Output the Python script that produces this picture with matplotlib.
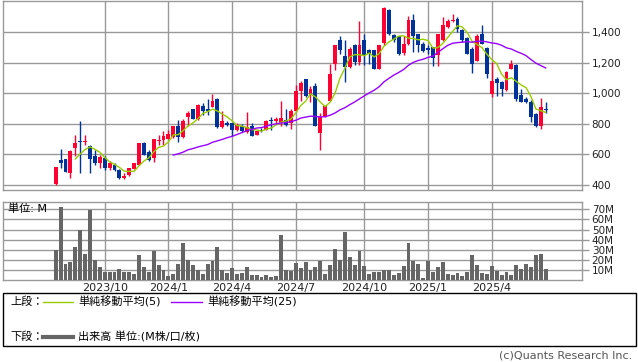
import matplotlib
matplotlib.use("Agg")
import matplotlib.pyplot as plt
import matplotlib.dates as mdates
from matplotlib.lines import Line2D
from matplotlib.patches import Rectangle
import numpy as np
import pandas as pd

plt.rcParams['font.family'] = ['DejaVu Sans', 'Noto Sans CJK JP']

# weekly candles, first week starting 2023-07-24
weeks = pd.date_range('2023-07-24', periods=101, freq='W-MON')

opens = [405, 562, 567, 476, 643, 690, 684, 653, 588, 541,
         578, 512, 534, 495, 443, 465, 502, 534, 675, 614,
         577, 686, 692, 701, 712, 783, 714, 848, 898, 833,
         918, 898, 909, 963, 777, 809, 809, 762, 787, 744,
         788, 729, 762, 757, 827, 816, 805, 827, 809, 885,
         1017, 1093, 989, 1048, 740, 848, 952, 1195, 1351, 1243,
         1173, 1314, 1206, 1347, 1282, 1282, 1158, 1329, 1548, 1384,
         1375, 1266, 1325, 1483, 1390, 1325, 1300, 1303, 1249, 1351,
         1433, 1472, 1487, 1412, 1362, 1290, 1212, 1386, 1297, 996,
         1097, 1076, 1022, 1162, 1184, 989, 965, 946, 866, 788,
         900]
highs = [517, 638, 571, 627, 729, 820, 729, 660, 632, 597,
         588, 558, 545, 502, 476, 508, 545, 675, 679, 627,
         703, 729, 751, 762, 788, 827, 835, 885, 900, 928,
         939, 961, 993, 972, 883, 816, 809, 805, 800, 881,
         805, 755, 772, 827, 844, 844, 949, 898, 900, 1054,
         1082, 1097, 1050, 1069, 870, 924, 1195, 1314, 1379, 1347,
         1303, 1325, 1472, 1390, 1292, 1286, 1314, 1568, 1552, 1390,
         1379, 1379, 1505, 1522, 1390, 1336, 1320, 1303, 1390, 1500,
         1487, 1522, 1498, 1422, 1370, 1303, 1390, 1450, 1303, 1206,
         1108, 1080, 1147, 1217, 1195, 1026, 978, 957, 870, 972,
         944]
lows = [400, 510, 482, 443, 588, 476, 664, 476, 530, 508,
        497, 497, 489, 437, 437, 458, 502, 530, 593, 556,
        549, 664, 660, 698, 707, 679, 707, 783, 830, 827,
        859, 859, 909, 772, 772, 783, 723, 751, 750, 740,
        718, 729, 744, 757, 762, 805, 788, 788, 766, 881,
        950, 978, 946, 783, 632, 844, 952, 1152, 1260, 1076,
        1163, 1184, 1184, 1184, 1195, 1158, 1158, 1314, 1384, 1336,
        1253, 1249, 1314, 1271, 1271, 1271, 1260, 1180, 1180, 1340,
        1427, 1466, 1400, 1336, 1255, 1136, 1210, 1325, 1102, 974,
        985, 985, 1017, 1162, 952, 943, 935, 811, 777, 768,
        870]
closes = [517, 545, 487, 625, 675, 684, 690, 573, 545, 580,
          512, 545, 495, 443, 456, 508, 545, 675, 599, 562,
          703, 692, 718, 736, 788, 714, 820, 874, 833, 924,
          887, 887, 950, 777, 820, 794, 762, 794, 755, 777,
          723, 755, 751, 820, 816, 831, 837, 790, 885, 1017,
          1069, 983, 1028, 788, 848, 918, 1130, 1314, 1282, 1173,
          1292, 1206, 1314, 1249, 1260, 1162, 1314, 1559, 1390, 1351,
          1260, 1325, 1483, 1373, 1314, 1277, 1285, 1234, 1390, 1448,
          1472, 1483, 1422, 1347, 1260, 1195, 1373, 1325, 1130, 1082,
          1065, 1030, 1139, 1195, 965, 946, 941, 848, 788, 909,
          892]
# volume in millions of shares
volume = [30, 72.7, 16.4, 18.4, 32.9, 49.6, 26, 69.7, 20, 13.1,
          8.5, 8.5, 8.5, 11.2, 8.5, 8.5, 6.2, 25, 13.1, 8.5,
          29.3, 15.1, 10.2, 4.3, 6.2, 16.1, 36.8, 20, 15.1, 10.2,
          6.2, 16.1, 19, 32.9, 10.2, 7.6, 12.2, 6.2, 7.6, 13.1,
          5.3, 5.3, 3.3, 5.3, 3.3, 4.3, 44.7, 10.2, 9.5, 17.4,
          12.2, 18, 10.2, 13.1, 19, 6.2, 15.1, 30.9, 20, 47.7,
          23, 15.1, 28.9, 14.1, 6.2, 8.2, 8.2, 10.2, 10.2, 5.3,
          7.2, 14.1, 36.8, 19, 16.1, 2.3, 19.4, 8.5, 13.1, 18,
          6.2, 5.3, 7.2, 4.3, 8.2, 25, 15.1, 7.2, 6.2, 14.1,
          9.2, 5.3, 8.2, 5.3, 15.1, 11.2, 16.1, 13.1, 25, 26,
          11.2]

month_labels = ['2023/10', '2024/1', '2024/4', '2024/7', '2024/10', '2025/1', '2025/4']
price_ticks = [400, 600, 800, 1000, 1200, 1400]
vol_ticks = [10, 20, 30, 40, 50, 60, 70]

RED = '#ff0033'
BLUE = '#003399'
GRID = '#999999'

W, H = 638, 362
fig = plt.figure(figsize=(W / 100, H / 100), dpi=100)

def box(x0, y0, x1, y1):
    # pixel box -> figure fraction
    return [x0 / W, 1 - y1 / H, (x1 - x0) / W, (y1 - y0) / H]

ax = fig.add_axes(box(3, 0.7, 582, 190.3))
axv = fig.add_axes(box(3, 201.7, 582, 280.3))

x = mdates.date2num(weeks)
o = np.array(opens, float)
c = np.array(closes, float)
cols = np.where(c >= o, RED, BLUE)

# month gridlines sit on the first weekly candle of each labelled month
tick_x = []
for lab in month_labels:
    yy, mm = map(int, lab.split('/'))
    idx = np.where((weeks.year == yy) & (weeks.month == mm))[0][0]
    tick_x.append(x[idx])

xlim = (x[0] - 75.3, x[-1] + 51.9)

# price panel
ax.vlines(x, lows, highs, colors=cols, lw=1, zorder=3)
ax.bar(x, np.maximum(np.abs(c - o), 4), bottom=np.minimum(o, c), width=5.6,
       color=cols, lw=0, zorder=3)
ma5 = pd.Series(c).rolling(5).mean()
ma25 = pd.Series(c).rolling(25).mean()
ax.plot(x, ma5, color='#99cc00', lw=1, zorder=4)
ax.plot(x, ma25, color='#9900ff', lw=1, zorder=4)
ax.set_xlim(*xlim)
ax.set_ylim(365, 1607)
ax.set_xticks(tick_x)
ax.set_xticklabels([])
ax.tick_params(axis='x', length=0)
ax.set_yticks(price_ticks)
ax.set_yticklabels([f'{v:,}' for v in price_ticks])

# volume panel
axv.bar(x, volume, width=5.6, color='#666666', lw=0, zorder=3)
axv.set_xlim(*xlim)
axv.set_ylim(0, 77.5)
axv.set_xticks(tick_x)
axv.set_xticklabels(month_labels, fontsize=8, color='#222222')
axv.tick_params(axis='x', length=0, pad=2)
axv.set_yticks(vol_ticks)
axv.set_yticklabels([f'{v}M' for v in vol_ticks])
axv.text(xlim[0] + 7, 71, '単位: M', fontsize=8, va='center', ha='left', zorder=5)

for a in (ax, axv):
    a.yaxis.tick_right()
    a.tick_params(axis='y', length=5, width=1, color=GRID, labelsize=7.5,
                  labelcolor='#222222', pad=2)
    a.grid(True, color=GRID, lw=1, zorder=0)
    a.set_axisbelow(True)
    for s in a.spines.values():
        s.set_color(GRID)
        s.set_linewidth(1)

# legend box
fig.add_artist(Rectangle((3 / W, 1 - 346 / H), 633 / W, 53 / H, transform=fig.transFigure,
                         fill=False, edgecolor='black', lw=1))

def fline(x0, x1, y, color, lw):
    fig.add_artist(Line2D([x0 / W, x1 / W], [1 - y / H, 1 - y / H],
                          transform=fig.transFigure, color=color, lw=lw))

def ftext(px, py, s, **kw):
    fig.text(px / W, 1 - py / H, s, va='center', fontsize=8, **kw)

ftext(10, 302, '上段：')
fline(43, 73, 302, '#99cc00', 1)
ftext(78, 302, '単純移動平均(5)')
fline(171, 202, 302, '#9900ff', 1)
ftext(207, 302, '単純移動平均(25)')
ftext(10, 337, '下段：')
fline(43, 73, 337, '#666666', 3)
ftext(78, 337, '出来高 単位:(M株/口/枚)')
ftext(632, 356, '(c)Quants Research Inc.', ha='right', color='#555555')

fig.savefig('out.png', dpi=100)
